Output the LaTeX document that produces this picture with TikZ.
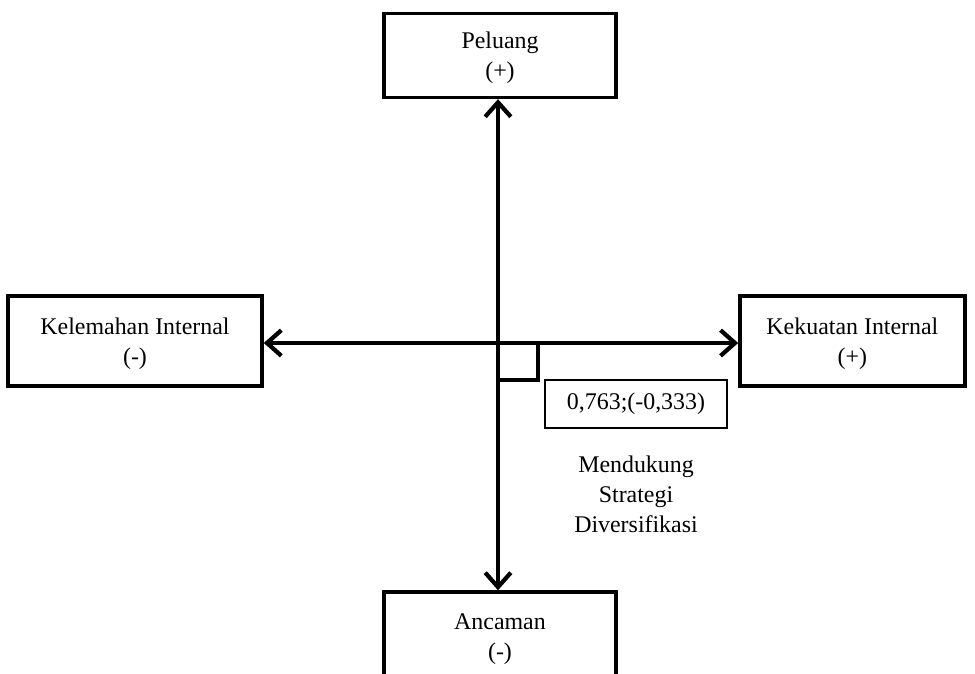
\documentclass[tikz,border=0pt]{standalone}
\usepackage{fontspec}
\setmainfont{Liberation Serif}
\usetikzlibrary{arrows.meta,positioning,calc}

\begin{document}
\begin{tikzpicture}[
  font=\fontsize{17}{21.3}\selectfont,
  >={Straight Barb[length=3.6mm,width=6.4mm]},
  factor/.style={draw=black, line width=2.5pt, align=center, inner sep=0pt},
  axis/.style={draw=black, line width=3pt, line cap=round, line join=round},
  coord/.style={draw=black, line width=.9pt, inner sep=0pt, minimum width=4.55cm, minimum height=1.2cm}
]
  \useasboundingbox (0,0) rectangle (24.375,16.825);
  \clip (0,0) rectangle (24.375,16.825);

  % the four IFE/EFE factor boxes
  \node[factor, minimum width=5.8cm, minimum height=2.1cm] (peluang) at (12.5,15.44) {\\[-6pt]Peluang\\(+)};
  \node[factor, minimum width=6.35cm, minimum height=2.25cm] (kelemahan) at (3.375,8.3) {\\[-6pt]Kelemahan Internal\\(-)};
  \node[factor, minimum width=5.625cm, minimum height=2.25cm] (kekuatan) at (21.31,8.3) {\\[-6pt]Kekuatan Internal\\(+)};
  \node[factor, minimum width=5.8cm, minimum height=2.2cm] (ancaman) at (12.5,0.925) {\\[-6pt]Ancaman\\(-)};

  \coordinate (origin) at (12.45,8.25);
  \draw[axis, <->] (origin -| kelemahan.east) -- (origin -| kekuatan.west);
  \draw[axis, <->] (origin |- peluang.south) -- (origin |- ancaman.north);
  \draw[line width=2.2pt] (origin) rectangle ++(1,-0.925);

  \node[coord] (titik) at (15.9,6.725) {0,763;(-0,333)};
  \node[align=center, below=0.55cm of titik] (strategi) {Mendukung\\Strategi\\Diversifikasi};
\end{tikzpicture}
\end{document}
